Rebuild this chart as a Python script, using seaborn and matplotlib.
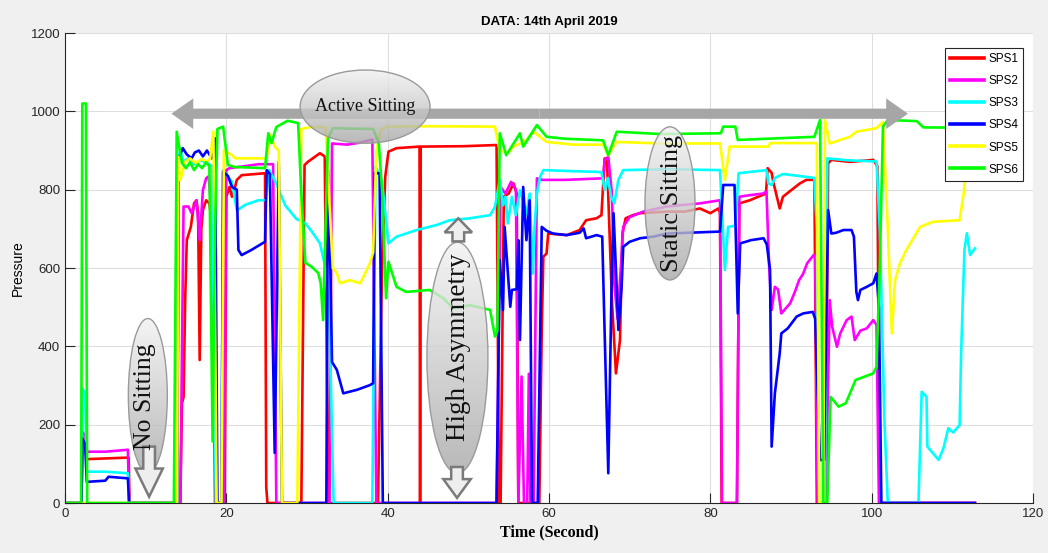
import numpy as np
import pandas as pd
import matplotlib
matplotlib.use('Agg')
import matplotlib.pyplot as plt
import seaborn as sns
from matplotlib.patches import Ellipse
from matplotlib.colors import LinearSegmentedColormap

# (time in s, pressure), one list per sensor
sps1 = [(0, 0), (2.05, 0), (2.15, 148), (2.5, 140), (2.7, 112), (7.9, 116), (8.0, 0),
        (14.3, 0), (14.5, 255), (14.7, 270), (14.9, 518), (15.1, 671), (15.6, 705), (16.0, 765),
        (16.3, 773), (16.5, 740), (16.7, 365), (16.9, 700), (17.1, 748), (17.5, 773), (17.9, 765),
        (18.3, 700), (18.6, 0), (19.8, 0), (20.0, 782), (20.4, 807), (20.7, 782), (21.0, 800),
        (21.3, 825), (21.9, 837), (24.8, 842), (24.95, 40), (25.1, 0), (29.3, 0), (29.7, 863),
        (30.1, 871), (31.6, 893), (32.2, 885), (32.5, 300), (32.7, 0), (38.8, 0), (39.3, 600),
        (39.7, 833), (40.1, 897), (41.1, 906), (43.95, 910), (44.02, 0), (44.1, 910),
        (49.4, 911), (53.5, 914), (53.8, 0), (54.0, 0), (54.4, 782), (55.0, 790), (55.6, 816),
        (56.0, 790), (56.2, 0), (58.8, 0), (59.1, 442), (59.3, 629), (59.7, 637), (59.9, 688),
        (62.2, 684), (63.8, 697), (64.6, 722), (65.9, 727), (66.5, 735), (66.9, 880), (67.2, 870),
        (67.8, 518), (68.3, 331), (68.8, 416), (69.1, 688), (69.5, 727), (70.4, 735), (71.3, 740),
        (74.6, 744), (76.8, 744), (78.7, 752), (80.0, 740), (81.0, 752), (81.2, 740), (81.4, 0),
        (83.3, 0), (83.6, 765), (84.9, 773), (86.9, 790), (87.1, 855), (87.6, 843), (87.8, 820),
        (88.6, 752), (89.0, 782), (89.8, 795), (91.1, 816), (91.9, 825), (92.9, 825), (93.2, 0),
        (94.3, 0), (94.6, 867), (95.0, 876), (97.3, 871), (100.2, 876), (100.7, 860), (101.0, 0),
        (112.8, 0)]

sps2 = [(0, 0), (2.05, 0), (2.15, 182), (2.5, 172), (2.7, 131), (5.0, 131), (7.8, 136), (7.95, 0),
        (14.3, 0), (14.7, 757), (15.3, 757), (15.7, 740), (16.3, 773), (16.7, 671), (17.1, 799),
        (17.5, 829), (17.8, 834), (18.4, 700), (18.8, 0), (19.7, 0), (20.0, 850), (20.4, 855),
        (21.9, 859), (24.0, 865), (25.8, 865), (26.2, 0), (32.8, 0), (33.1, 918), (35.0, 915),
        (36.5, 920), (38.1, 928), (38.6, 0), (53.5, 0), (54.0, 807), (54.6, 790), (55.3, 820),
        (55.9, 800), (56.2, 0), (56.6, 323), (56.9, 0), (57.3, 0), (57.5, 330), (57.7, 0), (58.1, 0),
        (58.5, 829), (59.2, 825), (62.0, 825), (66.7, 829), (66.9, 876), (67.35, 884), (67.8, 790),
        (68.1, 560), (68.5, 470), (68.9, 600), (69.2, 705), (70.0, 730), (71.7, 744), (74.6, 757),
        (76.6, 761), (78.7, 765), (81.2, 773), (81.45, 0), (83.3, 0), (83.6, 782), (84.9, 786),
        (86.5, 790), (86.96, 795), (87.3, 600), (87.6, 493), (88.0, 552), (88.4, 545), (88.8, 484),
        (89.9, 510), (90.5, 540), (91.0, 569), (91.5, 585), (92.0, 612), (92.8, 633), (93.0, 628),
        (93.3, 0), (94.3, 0), (94.8, 518), (95.1, 450), (95.7, 399), (96.1, 433), (96.9, 467),
        (97.5, 476), (97.9, 416), (98.6, 440), (99.4, 446), (100.2, 467), (100.6, 455), (100.9, 0),
        (112.8, 0)]

sps3 = [(0, 0), (2.05, 0), (2.15, 293), (2.5, 280), (2.7, 80), (5.0, 80), (7.8, 76), (7.95, 0),
        (13.95, 0), (14.1, 880), (14.3, 905), (14.6, 870), (15.2, 880), (16.0, 865), (16.8, 875),
        (17.6, 868), (18.2, 860), (18.7, 0), (19.4, 0), (19.6, 850), (20.7, 820), (21.3, 748),
        (21.7, 752), (22.3, 761), (24.0, 773), (24.9, 773), (25.3, 850), (26.1, 820), (27.3, 760),
        (28.7, 725), (29.8, 714), (30.6, 693), (31.6, 663), (32.3, 600), (32.8, 450), (33.3, 0),
        (38.1, 0), (38.5, 860), (39.3, 820), (40.1, 663), (41.1, 680), (43.6, 697), (46.1, 710),
        (47.7, 722), (50.2, 727), (52.7, 735), (53.3, 756), (53.9, 825), (54.3, 760), (54.6, 782),
        (54.9, 714), (55.4, 782), (55.9, 735), (56.4, 799), (56.8, 770), (57.2, 735), (57.6, 790),
        (58.0, 586), (58.2, 700), (58.5, 790), (58.9, 833), (59.3, 850), (62.0, 848), (66.5, 845),
        (66.9, 799), (67.3, 830), (67.7, 782), (68.1, 765), (68.6, 825), (69.2, 850), (75.0, 852),
        (81.2, 850), (81.8, 595), (82.2, 705), (83.1, 708), (83.5, 842), (86.96, 850), (87.2, 816),
        (87.6, 812), (88.0, 830), (89.0, 840), (91.0, 835), (92.9, 830), (93.2, 700), (93.5, 0),
        (94.2, 0), (94.5, 880), (97.0, 875), (100.6, 872), (101.0, 700), (101.6, 200), (102.0, 0),
        (105.8, 0), (106.2, 284), (106.8, 271), (106.9, 144), (107.6, 127), (108.3, 110),
        (108.9, 140), (109.5, 191), (110.1, 180), (110.9, 199), (111.1, 391), (111.5, 646),
        (111.8, 689), (112.2, 633), (112.8, 650)]

sps4 = [(0, 0), (2.05, 0), (2.15, 165), (2.5, 150), (2.7, 54), (5.0, 57), (5.4, 67), (7.8, 63),
        (7.95, 0), (13.9, 0), (14.1, 880), (14.6, 906), (15.1, 890), (15.7, 880), (16.1, 895),
        (16.6, 900), (17.1, 885), (17.6, 900), (18.2, 880), (18.6, 931), (18.9, 0), (19.4, 0),
        (19.6, 846), (20.2, 835), (20.7, 807), (21.3, 800), (21.5, 646), (21.9, 633), (23.1, 646),
        (24.8, 667), (25.0, 850), (25.4, 840), (26.0, 128), (26.5, 871), (26.9, 0), (32.4, 0),
        (32.6, 850), (32.9, 600), (33.1, 360), (33.7, 340), (34.5, 280), (36.2, 289), (37.8, 301),
        (38.2, 306), (38.4, 842), (39.0, 842), (39.4, 0), (53.5, 0), (53.9, 620), (54.3, 493),
        (54.5, 705), (55.2, 501), (55.4, 544), (56.0, 546), (56.2, 671), (56.4, 416), (56.8, 807),
        (57.2, 671), (57.6, 773), (57.9, 0), (58.6, 0), (59.1, 705), (59.7, 695), (60.5, 688),
        (62.2, 684), (63.8, 690), (64.3, 701), (64.6, 676), (65.9, 684), (66.6, 680), (66.9, 433),
        (67.35, 76), (67.8, 603), (68.0, 740), (68.3, 595), (68.6, 442), (69.0, 552), (69.2, 654),
        (70.0, 667), (71.3, 676), (72.9, 680), (74.6, 688), (81.2, 693), (81.6, 812), (83.0, 812),
        (83.4, 484), (83.7, 663), (84.4, 667), (85.0, 671), (86.6, 676), (87.0, 660), (87.4, 595),
        (87.6, 144), (88.0, 280), (88.6, 382), (88.8, 433), (89.6, 446), (90.7, 476), (91.5, 484),
        (92.7, 488), (93.0, 470), (93.2, 348), (93.6, 110), (94.1, 110), (94.6, 748), (95.0, 688),
        (95.6, 690), (96.5, 697), (97.5, 697), (97.8, 680), (98.1, 539), (98.3, 518), (98.6, 544),
        (99.4, 552), (100.2, 561), (100.6, 586), (100.9, 500), (101.2, 0), (112.8, 0)]

sps5 = [(0, 0), (13.9, 0), (14.05, 884), (14.3, 825), (14.9, 871), (15.5, 880), (16.2, 868),
        (16.9, 878), (17.6, 872), (18.0, 880), (18.4, 948), (18.8, 0), (19.4, 0), (19.7, 901),
        (20.7, 888), (21.1, 880), (25.0, 880), (25.5, 940), (26.0, 910), (26.5, 900), (26.9, 0),
        (28.8, 0), (29.3, 955), (30.5, 960), (32.3, 960), (32.7, 800), (33.2, 600), (33.7, 587),
        (34.1, 561), (35.3, 569), (36.6, 561), (37.8, 612), (38.2, 640), (38.6, 900), (39.2, 955),
        (40.0, 961), (45.0, 962), (53.3, 961), (53.6, 930), (53.9, 901), (54.9, 893), (55.6, 910),
        (56.4, 918), (57.2, 927), (58.1, 948), (58.9, 935), (59.7, 922), (63.0, 915), (66.7, 915),
        (67.35, 888), (68.4, 922), (73.8, 918), (81.2, 918), (81.8, 825), (82.4, 910), (87.2, 910),
        (87.4, 919), (93.2, 919), (93.5, 0), (94.0, 0), (94.2, 978), (94.8, 918), (97.3, 935),
        (98.1, 948), (100.6, 957), (101.4, 973), (102.0, 700), (102.5, 433), (102.9, 569),
        (103.5, 612), (104.3, 646), (106.0, 705), (107.6, 718), (110.9, 722), (111.4, 790),
        (111.6, 833), (112.2, 900), (112.8, 950)]

sps6 = [(0, 0), (2.0, 0), (2.15, 1020), (2.6, 1020), (2.75, 0), (13.5, 0), (13.85, 948),
        (14.5, 868), (15.0, 855), (15.5, 870), (16.0, 850), (16.5, 865), (17.0, 855), (17.5, 870),
        (17.9, 860), (18.3, 157), (18.6, 700), (18.9, 955), (19.6, 961), (20.2, 863), (21.0, 858),
        (24.8, 855), (25.2, 944), (25.6, 919), (26.2, 960), (27.6, 976), (28.9, 970), (29.3, 791),
        (29.8, 613), (30.6, 603), (31.4, 587), (31.7, 561), (32.0, 467), (32.3, 700), (32.6, 930),
        (33.2, 957), (37.5, 955), (38.2, 955), (38.9, 919), (39.3, 800), (39.8, 523), (40.1, 616),
        (41.1, 552), (42.3, 539), (45.2, 544), (46.9, 523), (48.1, 497), (50.2, 505), (52.7, 493),
        (53.3, 425), (53.6, 440), (53.9, 944), (54.7, 888), (56.4, 944), (56.8, 910), (58.5, 965),
        (59.7, 935), (62.0, 930), (66.7, 926), (67.35, 888), (68.4, 948), (73.8, 942), (81.3, 944),
        (81.6, 961), (83.1, 961), (83.4, 927), (87.0, 930), (92.9, 935), (93.6, 978), (93.8, 500),
        (94.0, 0), (94.5, 0), (94.9, 271), (95.9, 246), (96.8, 255), (98.0, 314), (100.2, 331),
        (100.6, 348), (101.0, 600), (101.4, 961), (102.0, 978), (105.6, 975), (106.4, 959),
        (112.8, 958)]

sensors = ['SPS1', 'SPS2', 'SPS3', 'SPS4', 'SPS5', 'SPS6']
colors = ['#ff0000', '#ff00ff', '#00ffff', '#0000ff', '#ffff00', '#00ff00']

frames = []
for name, pts in zip(sensors, [sps1, sps2, sps3, sps4, sps5, sps6]):
    d = pd.DataFrame(pts, columns=['time', 'pressure'])
    d['sensor'] = name
    frames.append(d)
df = pd.concat(frames, ignore_index=True)

plt.rcParams['font.family'] = ['Liberation Sans', 'DejaVu Sans']

fig = plt.figure(figsize=(10.48, 5.53), dpi=100, facecolor='#f0f0f0')
ax = fig.add_axes([0.062, 0.0904, 0.9237, 0.8499])
ax.set_facecolor('white')

sns.lineplot(data=df, x='time', y='pressure', hue='sensor', hue_order=sensors,
             palette=colors, estimator=None, sort=False, lw=1.9, ax=ax)

# big grey double arrow (Active Sitting span)
grey = '#a6a6a6'
mid = 58.85
ax.arrow(mid, 994, 13.2 - mid, 0, width=26, head_width=78, head_length=2.7,
         length_includes_head=True, color=grey, lw=0, zorder=4)
ax.arrow(mid, 994, 104.5 - mid, 0, width=26, head_width=78, head_length=2.7,
         length_includes_head=True, color=grey, lw=0, zorder=4)

cmap = LinearSegmentedColormap.from_list('bub', ['#a8a8a8', '#f2f2f2'])
grad = np.linspace(0, 1, 200).reshape(-1, 1)


def bubble(cx, cy, w, h, text, size, rot, tx=None, ty=None):
    e = Ellipse((cx, cy), w, h, facecolor='none', edgecolor='#9a9a9a', lw=1.0, zorder=6)
    ax.add_patch(e)
    im = ax.imshow(grad, cmap=cmap, origin='lower', aspect='auto', alpha=0.8,
                   extent=(cx - w / 2, cx + w / 2, cy - h / 2, cy + h / 2), zorder=5)
    im.set_clip_path(e)
    ax.text(cx if tx is None else tx, cy if ty is None else ty, text, rotation=rot,
            ha='center', va='center', fontsize=size, family='Liberation Serif',
            color='#111111', zorder=7)


def hollow(x, y0, y1, head):
    ax.arrow(x, y0, 0, y1 - y0, width=1.45, head_width=3.4, head_length=head,
             length_includes_head=True, facecolor='#eeeeee', edgecolor='#7a7a7a',
             lw=1.8, zorder=6.5)


bubble(37.2, 1012, 16.1, 187, 'Active Sitting', 13, 0)
bubble(10.27, 274, 4.83, 394, 'No Sitting', 18.5, 90, tx=9.9, ty=271)
bubble(48.65, 371, 7.56, 590, 'High Asymmetry', 19.5, 90, tx=48.76, ty=399)
bubble(75.0, 765, 6.2, 391, 'Static Sitting', 19, 90, tx=75.2)

hollow(10.43, 144, 16, 72)
hollow(48.6, 92, 13, 48)
hollow(48.76, 668, 727, 36)

ax.set_xlim(0, 120)
ax.set_ylim(0, 1200)
ax.set_xticks(range(0, 121, 20))
ax.set_yticks(range(0, 1201, 200))
ax.grid(True, color='#dedede', lw=0.8)
ax.set_axisbelow(True)
ax.tick_params(direction='in', length=7, width=0.8, colors='#262626', labelsize=9.5,
               top=False, right=False)
for s in ['top', 'right']:
    ax.spines[s].set_visible(False)
for s in ['left', 'bottom']:
    ax.spines[s].set_color('#262626')
    ax.spines[s].set_linewidth(0.8)

ax.set_title('DATA: 14th April 2019', fontsize=9.5, fontweight='bold', pad=6)
ax.set_xlabel('Time (Second)', fontsize=11.5, fontweight='bold',
              family='Liberation Serif', labelpad=3)
ax.set_ylabel('Pressure', fontsize=10, labelpad=4)

handles, labels = ax.get_legend_handles_labels()
for h in handles:
    h.set_linewidth(2.6)
leg = ax.legend(handles, labels, loc='upper right', bbox_to_anchor=(0.99, 0.968),
                frameon=True, fancybox=False, edgecolor='#262626', framealpha=1,
                fontsize=8.5, handlelength=2.9, labelspacing=0.85, borderpad=0.45,
                handletextpad=0.3, borderaxespad=0)
leg.get_frame().set_linewidth(0.8)
leg.set_zorder(10)

fig.savefig('out.png', dpi=100, facecolor=fig.get_facecolor())
